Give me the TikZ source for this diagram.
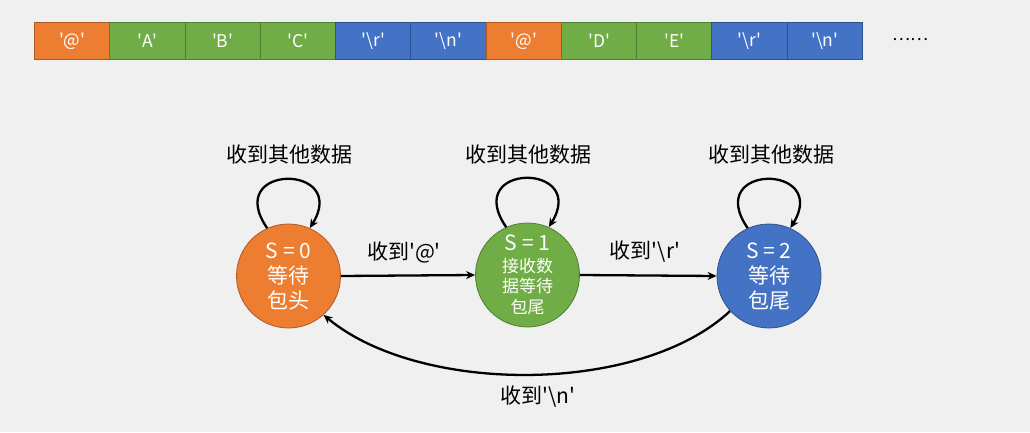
\documentclass[tikz,border=0pt]{standalone}
\usepackage{fontspec}
\setmainfont{Noto Sans CJK SC}
\usetikzlibrary{arrows.meta}
\definecolor{bgc}{HTML}{F0F0F0}
\definecolor{orf}{HTML}{ED7D31}\definecolor{ord}{HTML}{AE5A21}
\definecolor{grf}{HTML}{70AD47}\definecolor{grd}{HTML}{507E32}
\definecolor{blf}{HTML}{4472C4}\definecolor{bld}{HTML}{2F528F}
\newcommand\myq{\textquotesingle}
\newcommand\mybs{\textbackslash}
\begin{document}
\begin{tikzpicture}[x=1pt,y=1pt,
  cell/.style={draw=#1d, fill=#1f, line width=1pt, minimum width=75.3pt, minimum height=37pt,
    inner sep=0pt, anchor=west, text=white, font=\fontsize{17.5}{17.5}\selectfont},
  state/.style={circle, draw=#1d, fill=#1f, line width=0.8pt, minimum size=104pt, inner sep=0pt,
    text=white, align=center},
  lbl/.style={font=\fontsize{21}{21}\selectfont, text=black},
  arr/.style={line width=2.3pt, -{Stealth[length=9pt,width=8pt]}}]
\useasboundingbox[fill=bgc] (0,0) rectangle (1030,432);
% top bar
\foreach \i/\c/\t in {0/or/\myq @\myq, 1/gr/\myq A\myq, 2/gr/\myq B\myq, 3/gr/\myq C\myq,
   4/bl/\myq\mybs r\myq, 5/bl/\myq\mybs n\myq, 6/or/\myq @\myq, 7/gr/\myq D\myq, 8/gr/\myq E\myq,
   9/bl/\myq\mybs r\myq, 10/bl/\myq\mybs n\myq}
  \node[cell=\c] (c\i) at ({34+75.27*\i},391) {\t};
\node[font=\fontsize{17}{17}\selectfont] (dots) at (910,392) {……};
% states
\node[state=or, font=\fontsize{21}{25}\selectfont] (s0) at (288.5,156) {S = 0\\等待\\包头};
\node[state=gr, font=\fontsize{17}{20.5}\selectfont] (s1) at (527.5,157) {{\fontsize{21}{21}\selectfont S = 1}\\[1pt]
  接收数\\据等待\\包尾};
\node[state=bl, font=\fontsize{21}{25}\selectfont] (s2) at (769,156) {S = 2\\等待\\包尾};
% loop labels
\node[lbl] (l0) at (289,277) {收到其他数据};
\node[lbl] (l1) at (528,277) {收到其他数据};
\node[lbl] (l2) at (771,277) {收到其他数据};
% loops
\draw[arr] (s0.114) .. controls +(-45,65) and +(40,65) .. (s0.66);
\draw[arr] (s1.114) .. controls +(-45,65) and +(40,65) .. (s1.66);
\draw[arr] (s2.114) .. controls +(-45,65) and +(40,65) .. (s2.66);
% transitions
\draw[arr] (s0.east) -- (s1.west);
\draw[arr] (s1.east) -- (s2.west);
\node[lbl] (t01) at (404,180) {收到\myq @\myq};
\node[lbl] (t12) at (645,180) {收到\myq\mybs r\myq};
\draw[arr] (s2.222) .. controls (640,37) and (420,37) .. (s0.312);
\node[lbl] (t20) at (538,35) {收到\myq\mybs n\myq};
\end{tikzpicture}
\end{document}
